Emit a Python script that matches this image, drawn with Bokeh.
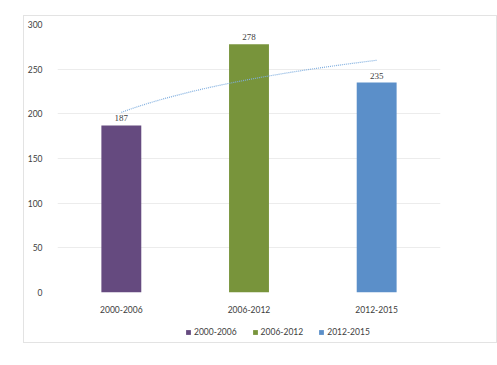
import numpy as np
from bokeh.plotting import figure
from bokeh.layouts import column
from bokeh.models import ColumnDataSource, Legend, LegendItem, FactorRange, Range1d, LabelSet
from bokeh.embed import file_html
from bokeh.resources import INLINE

periods = ["2000-2006", "2006-2012", "2012-2015"]
values = [187, 278, 235]
colors = ["#654A7F", "#78943B", "#5B8FC9"]
y_ticks = [0, 50, 100, 150, 200, 250, 300]

FONT = "Lato"
TXT = "#404040"

src = ColumnDataSource(dict(x=periods, top=values, color=colors,
                            label=[str(v) for v in values]))

p = figure(width=472, height=302, x_range=FactorRange(*periods, range_padding=0),
           y_range=Range1d(0, 300), output_backend="svg", toolbar_location=None,
           min_border_left=30, min_border_top=8, min_border_right=56, min_border_bottom=26)
p.outline_line_color = None
p.background_fill_color = "white"
p.border_fill_color = "white"

for i, per in enumerate(periods):
    s = ColumnDataSource(dict(x=[per], top=[values[i]]))
    p.vbar(x="x", top="top", width=0.3125, source=s, fill_color=colors[i], line_color=None)

# logarithmic trendline fitted to the values
xi = np.arange(1, len(values) + 1)
b, a = np.polyfit(np.log(xi), np.array(values, dtype=float), 1)
xs = np.linspace(1, len(values), 60)
ys = a + b * np.log(xs)
p.line(x=list(xs - 0.5), y=list(ys), line_color="#7FAEDF", line_width=1.2, line_dash="1 1")

labels = LabelSet(x="x", y="top", text="label", source=src, y_offset=4,
                  text_align="center", text_baseline="bottom",
                  text_font=FONT, text_font_size="9px", text_color=TXT)
p.add_layout(labels)

p.yaxis.ticker = y_ticks
p.xaxis.axis_line_color = None
p.yaxis.axis_line_color = None
p.xaxis.major_tick_line_color = None
p.yaxis.major_tick_line_color = None
p.xaxis.minor_tick_line_color = None
p.yaxis.minor_tick_line_color = None
p.xaxis.major_label_text_font = FONT
p.yaxis.major_label_text_font = FONT
p.xaxis.major_label_text_font_size = "8.5px"
p.yaxis.major_label_text_font_size = "8.5px"
p.xaxis.major_label_text_color = TXT
p.yaxis.major_label_text_color = TXT
p.yaxis.major_label_standoff = 9
p.xaxis.major_label_standoff = 7
p.xgrid.grid_line_color = None
p.ygrid.grid_line_color = "#ececec"
p.ygrid.grid_line_width = 1

# legend strip
lg = figure(width=472, height=24, x_range=Range1d(0, 1), y_range=Range1d(0, 1),
            output_backend="svg", toolbar_location=None, x_axis_type=None, y_axis_type=None,
            min_border=0)
lg.outline_line_color = None
lg.xgrid.grid_line_color = None
lg.ygrid.grid_line_color = None
items = []
for i, per in enumerate(periods):
    # swatch renderer: a zero-height bar, so only its legend swatch shows
    r = lg.vbar(x=[0.5], top=[0], bottom=0, width=0.1, fill_color=colors[i], line_color=None)
    items.append(LegendItem(label=per, renderers=[r]))
legend = Legend(items=items, orientation="horizontal", location=(128, 5),
                glyph_width=6, glyph_height=6, label_standoff=3, spacing=15,
                label_text_font=FONT, label_text_font_size="8.5px", label_text_color=TXT,
                border_line_color=None, background_fill_alpha=0, padding=0, margin=0,
                label_height=10)
lg.add_layout(legend, "center")

layout = column(p, lg, spacing=0)
layout.margin = (15, 0, 0, 23)
layout.styles = {"border": "1px solid #e3e3e3"}

open("out.html", "w").write(file_html(layout, INLINE))
